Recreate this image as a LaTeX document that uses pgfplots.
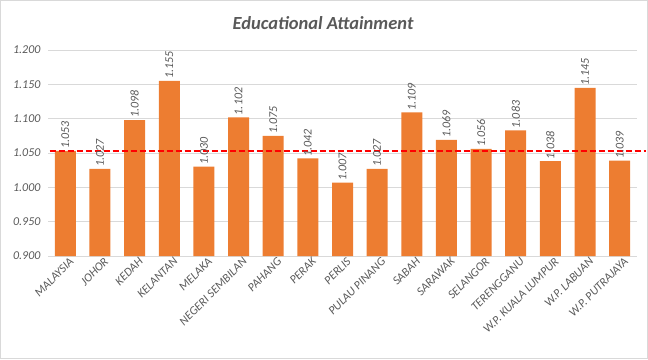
\documentclass[border=0pt]{standalone}
\usepackage{pgfplots}
\pgfplotsset{compat=1.18}
\usepackage{fontspec}
\setmainfont{Carlito}
\definecolor{txt}{HTML}{595959}
\definecolor{grd}{HTML}{D9D9D9}
\definecolor{bar}{HTML}{ED7D31}
\newcommand{\lblfont}{\fontsize{12}{14}\selectfont\itshape}
\begin{document}
\begin{tikzpicture}
\useasboundingbox (0,0) rectangle (648pt,359pt);
\draw[grd] (0.5pt,0.5pt) rectangle (647.5pt,358.5pt);
\node[font=\fontsize{18.5}{20}\selectfont\bfseries\itshape, text=txt] at (323pt,336pt) {Educational Attainment};
\begin{axis}[
  at={(48pt,103pt)}, anchor=south west,
  scale only axis, width=589pt, height=206pt,
  xmin=-0.5, xmax=16.5, ymin=0.9, ymax=1.2,
  ytick={0.9,0.95,1.0,1.05,1.1,1.15,1.2},
  yticklabels={0.900,0.950,1.000,1.050,1.100,1.150,1.200},
  ymajorgrids, grid style={grd, line width=0.8pt},
  axis x line*=bottom, axis y line*=left,
  x axis line style={grd, line width=0.8pt, -},
  y axis line style={draw=none},
  major tick length=0pt,
  xtick=data,
  xticklabels={MALAYSIA,JOHOR,KEDAH,KELANTAN,MELAKA,NEGERI SEMBILAN,PAHANG,PERAK,PERLIS,PULAU PINANG,SABAH,SARAWAK,SELANGOR,TERENGGANU,W.P. KUALA LUMPUR,W.P. LABUAN,W.P. PUTRAJAYA},
  xticklabel style={font=\lblfont, text=txt, rotate=45, anchor=north east, inner sep=1pt, xshift=3pt, yshift=-2pt},
  yticklabel style={font=\lblfont, text=txt, xshift=-4pt},
  clip=false,
]
\addplot[ybar, bar width=21pt, fill=bar, draw=none,
  nodes near coords, point meta=explicit symbolic,
  every node near coord/.append style={rotate=90, anchor=west, font=\lblfont, text=txt, inner sep=2pt}]
  table[meta=lab] {
x y lab
0 1.053 1.053
1 1.027 1.027
2 1.098 1.098
3 1.155 1.155
4 1.030 1.030
5 1.102 1.102
6 1.075 1.075
7 1.042 1.042
8 1.007 1.007
9 1.027 1.027
10 1.109 1.109
11 1.069 1.069
12 1.056 1.056
13 1.083 1.083
14 1.038 1.038
15 1.145 1.145
16 1.039 1.039
};
\addplot[red, line width=2pt, dash pattern=on 6pt off 3pt] coordinates {(-0.45,1.053) (16.75,1.053)};
\end{axis}
\end{tikzpicture}
\end{document}
